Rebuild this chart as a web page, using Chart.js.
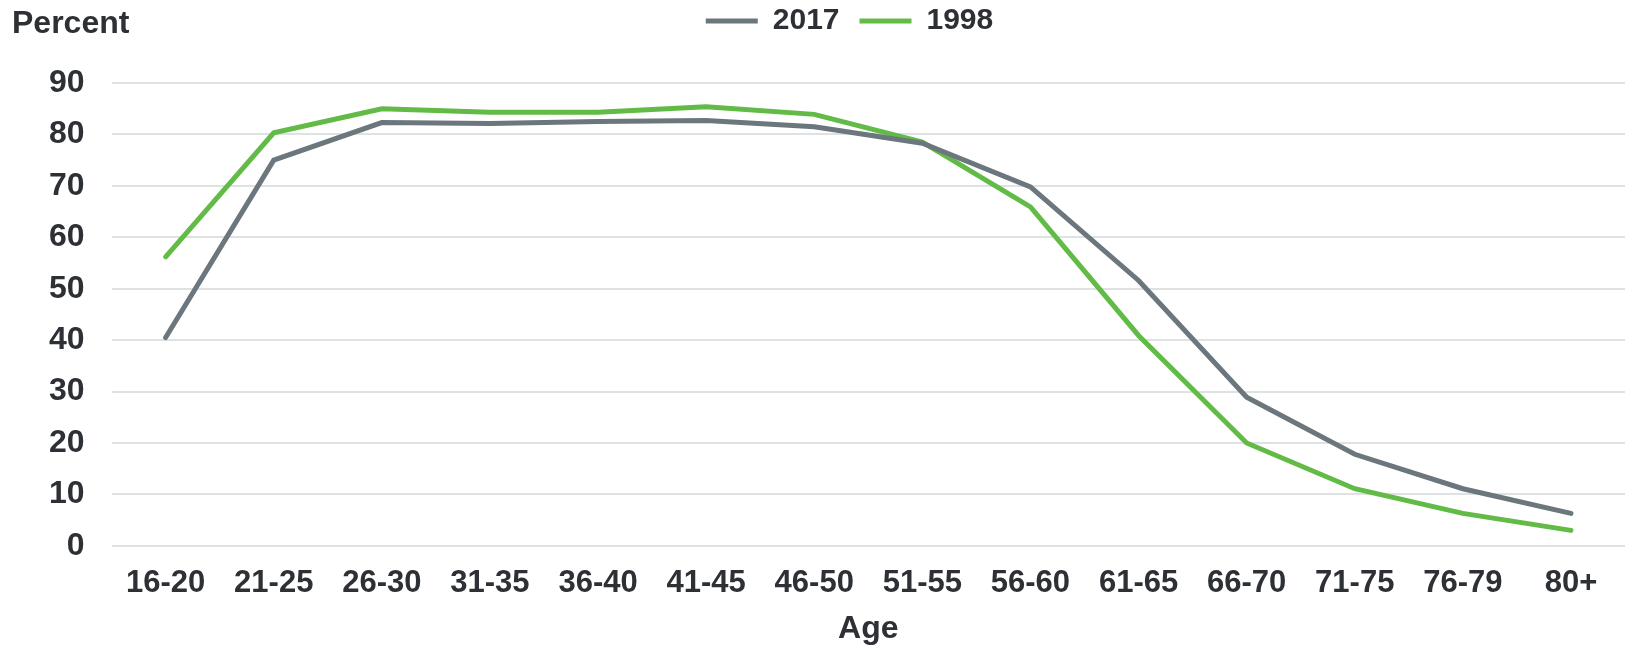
<!DOCTYPE html>
<html>
<head>
<meta charset="utf-8">
<script src="https://cdn.jsdelivr.net/npm/chart.js@4.4.1/dist/chart.umd.min.js"></script>
<style>
  body { margin: 0; background: #fff; }
  #wrap { width: 1626px; height: 648px; }
</style>
</head>
<body>
<div id="wrap"><canvas id="chart" width="1626" height="648"></canvas></div>
<script>
const ageGroups = ['16-20', '21-25', '26-30', '31-35', '36-40', '41-45', '46-50',
  '51-55', '56-60', '61-65', '66-70', '71-75', '76-79', '80+'];
const values2017 = [40.5, 75.0, 82.3, 82.1, 82.5, 82.7, 81.5, 78.3, 69.8, 51.6, 28.9, 17.8, 11.1, 6.3];
const values1998 = [56.2, 80.3, 85.0, 84.3, 84.3, 85.4, 83.9, 78.5, 65.9, 40.9, 20.0, 11.1, 6.3, 3.0];
const yTicks = [0, 10, 20, 30, 40, 50, 60, 70, 80, 90];

const textColor = '#2d3034';
const gray = '#6b767d';
const green = '#63bb47';
const fontFamily = '"Liberation Sans", Arial, sans-serif';

// "Percent" label top left; legend nudged up and to the right
const extras = {
  id: 'extras',
  afterLayout(chart) {
    const lg = chart.legend;
    lg.left += 26;
    lg.right += 26;
    lg.top -= 37;
    lg.bottom -= 37;
  },
  afterDraw(chart) {
    const ctx = chart.ctx;
    ctx.save();
    ctx.font = 'bold 32px ' + fontFamily;
    ctx.fillStyle = textColor;
    ctx.textBaseline = 'middle';
    ctx.textAlign = 'left';
    ctx.fillText('Percent', 12, 24);
    ctx.restore();
  }
};

new Chart(document.getElementById('chart'), {
  type: 'line',
  data: {
    labels: ageGroups,
    datasets: [
      {
        label: '2017',
        data: values2017,
        borderColor: gray,
        backgroundColor: gray,
        borderWidth: 5,
        borderCapStyle: 'round',
        pointRadius: 0,
        tension: 0
      },
      {
        label: '1998',
        data: values1998,
        borderColor: green,
        backgroundColor: green,
        borderWidth: 5,
        borderCapStyle: 'round',
        pointRadius: 0,
        tension: 0
      }
    ]
  },
  options: {
    responsive: false,
    animation: false,
    layout: { padding: { left: 22, right: 1, top: 23, bottom: 3 } },
    plugins: {
      tooltip: { enabled: false },
      legend: {
        position: 'top',
        labels: {
          usePointStyle: true,
          pointStyle: 'line',
          pointStyleWidth: 52,
          padding: 20,
          color: textColor,
          font: { family: fontFamily, size: 30, weight: 'bold' }
        }
      }
    },
    scales: {
      x: {
        offset: true,
        grid: { display: false },
        border: { display: false },
        ticks: {
          color: textColor,
          padding: 11,
          maxRotation: 0,
          font: { family: fontFamily, size: 31, weight: 'bold' }
        },
        title: {
          display: true,
          text: 'Age',
          color: textColor,
          padding: { top: 0, bottom: 0 },
          font: { family: fontFamily, size: 32, weight: 'bold', lineHeight: 1 }
        }
      },
      y: {
        min: 0,
        max: 90,
        afterBuildTicks(axis) {
          axis.ticks = yTicks.map(v => ({ value: v }));
        },
        grid: { color: '#dfe2e2', lineWidth: 2, drawTicks: false },
        border: { display: false },
        ticks: {
          color: textColor,
          padding: 27,
          font: { family: fontFamily, size: 32, weight: 'bold' }
        }
      }
    }
  },
  plugins: [extras]
});
</script>
</body>
</html>
